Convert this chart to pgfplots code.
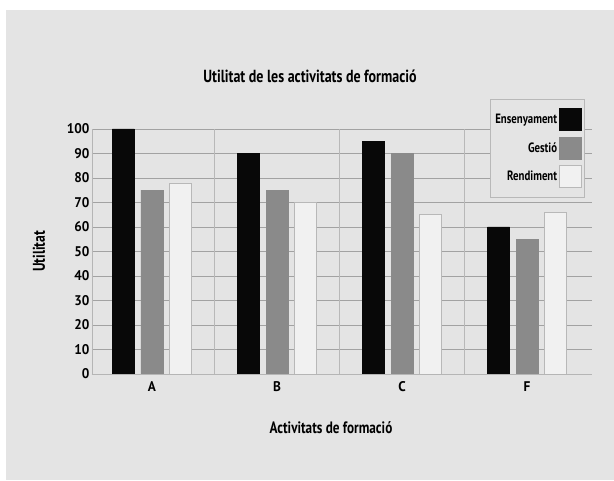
\documentclass[border=0pt]{standalone}
\usepackage{pgfplots}
\pgfplotsset{compat=1.18}
\usepackage{fontspec}
\setmainfont{PT Sans}[FakeStretch=0.8]
\newfontfamily\tickfont{PT Sans}[FakeStretch=0.95]
\definecolor{bg}{HTML}{E4E4E4}
\definecolor{gridc}{HTML}{A2A2A2}
\definecolor{vgrid}{HTML}{B8B8B8}
\definecolor{barblack}{HTML}{080808}
\definecolor{bargray}{HTML}{8A8A8A}
\definecolor{barwhite}{HTML}{F1F1F1}
\begin{document}
\begin{tikzpicture}[x=1pt,y=1pt]
\fill[white] (0,0) rectangle (614,480);
\fill[bg] (6,0) rectangle (614,470);
\useasboundingbox (0,0) rectangle (614,480);
\begin{axis}[
  at={(92pt,106pt)}, anchor=south west,
  scale only axis, width=500pt, height=245pt,
  xmin=-0.48, xmax=3.52, ymin=0, ymax=100,
  ybar=6.5pt, bar width=22pt,
  xtick={0,1,2,3}, xticklabels={A,B,C,F},
  ytick={0,10,...,100},
  major tick length=0pt,
  ymajorgrids,
  grid style={draw=gridc, line width=0.7pt},
  extra x ticks={0.5,1.5,2.5},
  extra x tick labels={},
  extra x tick style={xmajorgrids=true, major grid style={draw=vgrid, line width=0.6pt}},
  axis x line*=bottom, axis y line*=left,
  axis line style={draw=gridc!80, line width=0.6pt, -},
  /pgf/number format/assume math mode=true,
  ticklabel style={font=\tickfont\bfseries\fontsize{14}{14}\selectfont},
  xticklabel style={yshift=-4pt},
  yticklabel style={xshift=1pt},
  title={Utilitat de les activitats de formació},
  title style={at={(axis description cs:0.436,1.19)}, anchor=center, font=\bfseries\fontsize{17.5}{18}\selectfont},
  xlabel={Activitats de formació},
  xlabel style={at={(axis description cs:0.478,-0.22)}, anchor=center, font=\bfseries\fontsize{16.5}{17}\selectfont},
  ylabel={Utilitat},
  ylabel style={at={(axis description cs:-0.106,0.5)}, anchor=center, font=\bfseries\fontsize{17}{17}\selectfont},
  legend plot pos=right,
  legend cell align=right,
  legend image code/.code={\draw[#1] (0pt,-11pt) rectangle (22pt,11pt);},
  legend style={at={(axis description cs:0.986,1.122)}, anchor=north east,
    draw=vgrid, fill=bg, line width=0.5pt,
    font=\bfseries\fontsize{13.5}{14}\selectfont,
    row sep=6pt, inner xsep=3pt, inner ysep=9pt},
]
\addplot[fill=barblack, draw=barblack] coordinates {(0,100) (1,90) (2,95) (3,60)};
\addplot[fill=bargray, draw=bargray] coordinates {(0,75) (1,75) (2,90) (3,55)};
\addplot[fill=barwhite, draw=vgrid, line width=0.6pt] coordinates {(0,78) (1,70) (2,65) (3,66)};
\legend{Ensenyament, Gestió, Rendiment}
\end{axis}
\end{tikzpicture}
\end{document}
